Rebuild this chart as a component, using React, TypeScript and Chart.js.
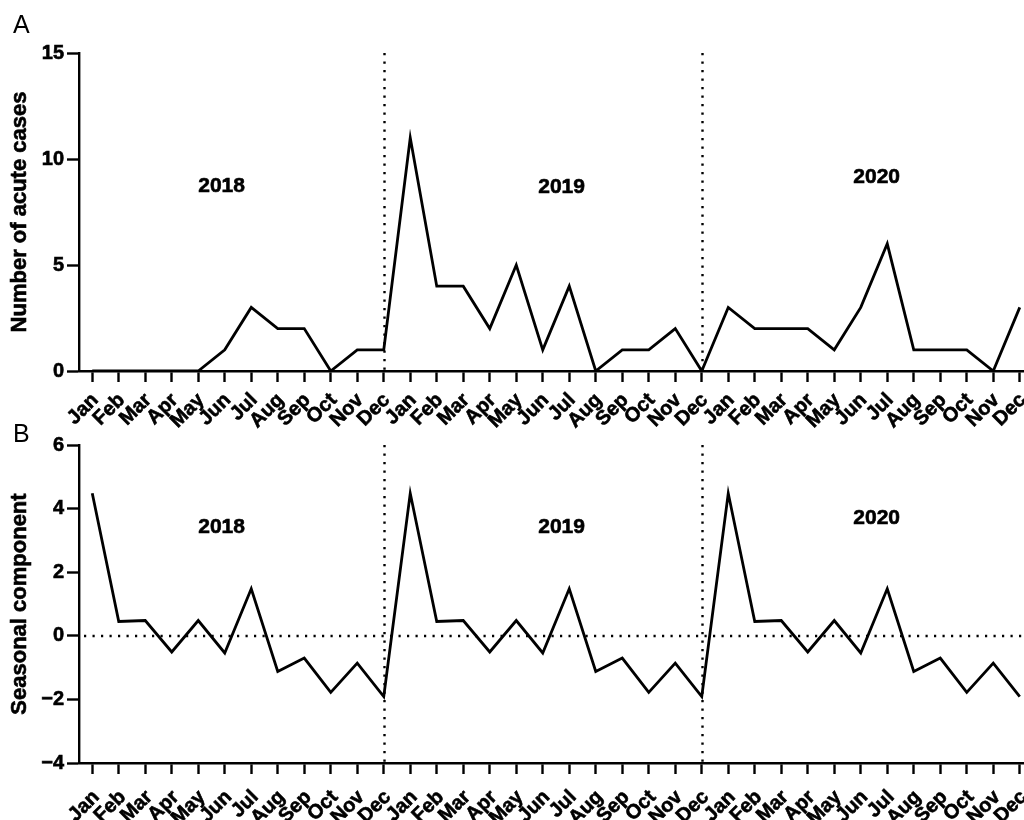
import { useEffect, useRef } from "react";
import { Chart, registerables } from "chart.js";

Chart.register(...registerables);

// Month names used for the x-axis tick labels
const monthNames = ["Jan", "Feb", "Mar", "Apr", "May", "Jun", "Jul", "Aug", "Sep", "Oct", "Nov", "Dec"];
const years = ["2018", "2019", "2020"];

// Monthly number of acute cases
const acuteCases2018 = [0, 0, 0, 0, 0, 1, 3, 2, 2, 0, 1, 1];
const acuteCases2019 = [11, 4, 4, 2, 5, 1, 4, 0, 1, 1, 2, 0];
const acuteCases2020 = [3, 2, 2, 2, 1, 3, 6, 1, 1, 1, 0, 3];

// Seasonal component of the decomposition
const seasonal2018 = [4.48, 0.45, 0.48, -0.51, 0.48, -0.54, 1.48, -1.12, -0.7, -1.78, -0.86, -1.91];
const seasonal2019 = [4.48, 0.45, 0.48, -0.51, 0.48, -0.54, 1.48, -1.12, -0.7, -1.78, -0.86, -1.91];
const seasonal2020 = [4.48, 0.45, 0.48, -0.51, 0.48, -0.54, 1.48, -1.12, -0.7, -1.78, -0.86, -1.91];

// Y-axis tick values
const casesTicks = [0, 5, 10, 15];
const seasonalTicks = [-4, -2, 0, 2, 4, 6];

// Index of the last month of 2018 and 2019 (year separators)
const yearBoundaries = [11, 23];

const periodLabels = years.flatMap(() => monthNames);
const casesSeries = [...acuteCases2018, ...acuteCases2019, ...acuteCases2020];
const seasonalSeries = [...seasonal2018, ...seasonal2019, ...seasonal2020];

const FONT = "'Liberation Sans', Arial, Helvetica, sans-serif";
const TEXT_STROKE = 0.6;
const X_TICK_LEN = 11;

type YearTag = { text: string; x: number; y: number };

type PanelSpec = {
  series: number[];
  yMin: number;
  yMax: number;
  yTicks: number[];
  yTitle: string;
  padTop: number;
  axisHeight: number;
  labelDx: number;
  labelDy: number;
  zeroLine: boolean;
  yearTags: YearTag[];
};

function heavyText(ctx: CanvasRenderingContext2D, text: string, x: number, y: number) {
  ctx.fillText(text, x, y);
  ctx.strokeText(text, x, y);
}

const panelDecor = {
  id: "panelDecor",
  beforeDatasetsDraw(chart: any, _args: any, opts: any) {
    const { ctx, chartArea, scales } = chart;
    const x = scales.x;
    const y = scales.y;
    ctx.save();
    ctx.strokeStyle = "#000";
    ctx.lineWidth = 2.4;
    ctx.lineCap = "butt";
    ctx.setLineDash([2.2, 6.3]);
    for (const b of yearBoundaries) {
      const px = Math.round(x.getPixelForValue(b)) + 0.5;
      ctx.beginPath();
      ctx.moveTo(px, chartArea.top);
      ctx.lineTo(px, chartArea.bottom);
      ctx.stroke();
    }
    if (opts.zeroLine) {
      const py = Math.round(y.getPixelForValue(0));
      ctx.beginPath();
      ctx.moveTo(chartArea.left + 5, py);
      ctx.lineTo(chartArea.right, py);
      ctx.stroke();
    }
    ctx.restore();
  },
  afterDraw(chart: any, _args: any, opts: any) {
    const { ctx, scales, chartArea } = chart;
    const xs = scales.x;
    ctx.save();
    ctx.fillStyle = "#000";
    ctx.strokeStyle = "#000";
    ctx.lineWidth = TEXT_STROKE;

    // year captions inside the plot
    ctx.font = `bold 21px ${FONT}`;
    ctx.textAlign = "center";
    ctx.textBaseline = "middle";
    for (const t of opts.yearTags as YearTag[]) {
      heavyText(ctx, t.text, xs.getPixelForValue(t.x), scales.y.getPixelForValue(t.y));
    }

    // month labels, slanted at 45 degrees below each tick
    ctx.font = `bold 20px ${FONT}`;
    ctx.textAlign = "right";
    ctx.textBaseline = "middle";
    const baseY = chartArea.bottom + X_TICK_LEN + opts.labelDy;
    xs.ticks.forEach((tk: any, i: number) => {
      const px = xs.getPixelForValue(tk.value);
      ctx.save();
      ctx.translate(px + opts.labelDx, baseY);
      ctx.rotate(-Math.PI / 4);
      heavyText(ctx, periodLabels[i], 0, 0);
      ctx.restore();
    });

    // vertical axis title
    ctx.save();
    ctx.translate(20, (chartArea.top + chartArea.bottom) / 2);
    ctx.rotate(-Math.PI / 2);
    ctx.font = `bold 22px ${FONT}`;
    ctx.textAlign = "center";
    heavyText(ctx, opts.yTitle, 0, 0);
    ctx.restore();

    ctx.restore();
  },
};

function buildPanel(canvas: HTMLCanvasElement, spec: PanelSpec) {
  return new Chart(canvas, {
    type: "line",
    data: {
      datasets: [
        {
          data: spec.series.map((v, i) => ({ x: i, y: v })),
          borderColor: "#000",
          borderWidth: 2.8,
          pointRadius: 0,
          tension: 0,
          fill: false,
        },
      ],
    },
    options: {
      responsive: false,
      animation: false,
      devicePixelRatio: 1,
      layout: { padding: { top: spec.padTop, left: 0, right: 0, bottom: 0 } },
      plugins: {
        legend: { display: false },
        tooltip: { enabled: false },
        panelDecor: {
          zeroLine: spec.zeroLine,
          yearTags: spec.yearTags,
          yTitle: spec.yTitle,
          labelDx: spec.labelDx,
          labelDy: spec.labelDy,
        },
      } as any,
      scales: {
        x: {
          type: "linear",
          min: -0.5,
          max: 35.16,
          afterBuildTicks: (s: any) => {
            s.ticks = periodLabels.map((_, i) => ({ value: i }));
          },
          afterFit: (s: any) => {
            s.height = spec.axisHeight;
            s.paddingLeft = 0;
            s.paddingRight = 0;
          },
          ticks: {
            autoSkip: false,
            display: false,
          },
          grid: {
            drawOnChartArea: false,
            drawTicks: true,
            tickLength: X_TICK_LEN,
            tickWidth: 2.4,
            tickColor: "#000",
          },
          border: { display: true, color: "#000", width: 2.4 },
        },
        y: {
          type: "linear",
          min: spec.yMin,
          max: spec.yMax,
          afterBuildTicks: (s: any) => {
            s.ticks = spec.yTicks.map((v) => ({ value: v }));
          },
          afterFit: (s: any) => {
            s.width = 79;
          },
          ticks: {
            padding: 3,
            color: "#000",
            textStrokeColor: "#000",
            textStrokeWidth: TEXT_STROKE,
            font: { family: FONT, size: 20, weight: "bold" },
            callback: (v: any) => (Number(v) < 0 ? "\u2212" + Math.abs(Number(v)) : String(v)),
          },
          grid: {
            drawOnChartArea: false,
            drawTicks: true,
            tickLength: 12,
            tickWidth: 2.4,
            tickColor: "#000",
          },
          border: { display: true, color: "#000", width: 2.4 },
        },
      },
    },
    plugins: [panelDecor],
  } as any);
}

export default function App() {
  const topRef = useRef<HTMLCanvasElement>(null);
  const bottomRef = useRef<HTMLCanvasElement>(null);

  useEffect(() => {
    if (!topRef.current || !bottomRef.current) return;
    const top = buildPanel(topRef.current, {
      series: casesSeries,
      yMin: 0,
      yMax: 15,
      yTicks: casesTicks,
      yTitle: "Number of acute cases",
      padTop: 53,
      axisHeight: 69,
      labelDx: 3,
      labelDy: 15,
      zeroLine: false,
      yearTags: [
        { text: years[0], x: 4.88, y: 8.7 },
        { text: years[1], x: 17.71, y: 8.65 },
        { text: years[2], x: 29.6, y: 9.15 },
      ],
    });
    const bottom = buildPanel(bottomRef.current, {
      series: seasonalSeries,
      yMin: -4,
      yMax: 6,
      yTicks: seasonalTicks,
      yTitle: "Seasonal component",
      padTop: 15,
      axisHeight: 57,
      labelDx: 4,
      labelDy: 20,
      zeroLine: true,
      yearTags: [
        { text: years[0], x: 4.88, y: 3.4 },
        { text: years[1], x: 17.71, y: 3.4 },
        { text: years[2], x: 29.6, y: 3.71 },
      ],
    });
    return () => {
      top.destroy();
      bottom.destroy();
    };
  }, []);

  const letterStyle: React.CSSProperties = {
    position: "absolute",
    left: 13,
    fontFamily: FONT,
    fontSize: 25,
    lineHeight: "25px",
    color: "#000",
  };

  return (
    <div style={{ position: "absolute", left: 0, top: 0, width: 1024, height: 820, background: "#fff", overflow: "hidden" }}>
      <canvas ref={topRef} width={1024} height={440} style={{ position: "absolute", left: 0, top: 0, display: "block" }} />
      <canvas ref={bottomRef} width={1024} height={390} style={{ position: "absolute", left: 0, top: 430, display: "block" }} />
      <div style={{ ...letterStyle, top: 12 }}>A</div>
      <div style={{ ...letterStyle, top: 421 }}>B</div>
    </div>
  );
}
